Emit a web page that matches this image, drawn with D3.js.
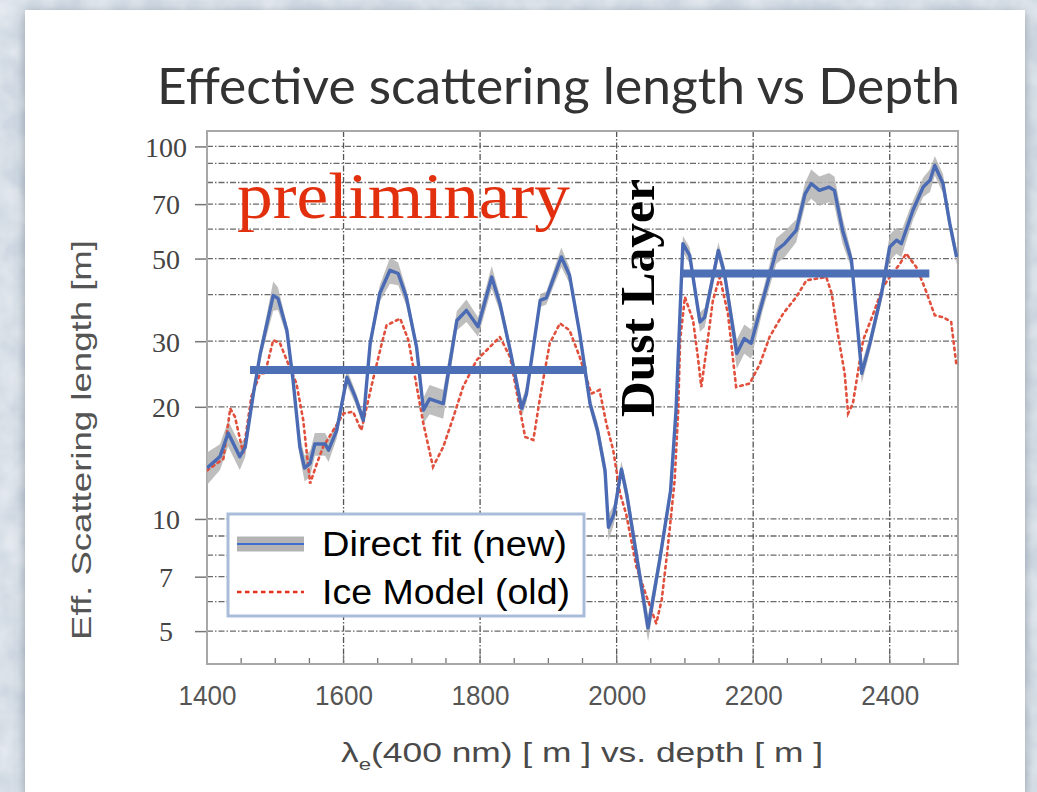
<!DOCTYPE html>
<html>
<head>
<meta charset="utf-8">
<script src="https://cdn.jsdelivr.net/npm/d3@7"></script>
<style>
  html, body { margin: 0; padding: 0; background: #d9e0e8; }
  svg { display: block; }
</style>
</head>
<body>
<svg id="chart" width="1037" height="792"></svg>
<script>
// ---------------- data ----------------
const titleText = "Effective scattering length vs Depth";
const xLabelMain = "(400 nm) [ m ] vs. depth [ m ]";
const yLabelText = "Eff. Scattering length [m]";
const seriesNames = ["Direct fit (new)", "Ice Model (old)"];

const fitDepth = [1400,1419,1431,1448,1456,1468,1478,1497,1504,1517,1526,1536,1543,1551,1558,1573,1578,1590,1605,1617,
  1629,1639,1653,1668,1680,1692,1707,1717,1726,1746,1766,1780,1797,1817,1829,1844,1861,1868,1888,1897,
  1919,1931,1946,1961,1972,1983,1988,1996,2007,2015,2046,2063,2079,2087,2097,2107,2122,2129,2149,2158,
  2176,2187,2197,2214,2234,2246,2263,2276,2285,2297,2311,2319,2331,2344,2359,2371,2388,2400,2410,2417,
  2434,2449,2459,2466,2478,2488,2498];
const fitValue = [13.7,14.7,17.0,14.7,15.6,21.7,27.8,39.8,39.1,32.1,23.6,15.6,13.7,14.1,15.9,15.9,15.3,17.3,24.0,21.3,
  18.4,29.6,40.3,46.5,45.6,39.4,28.9,19.6,21.0,20.4,34.1,36.3,32.8,44.6,37.9,28.4,19.8,21.7,38.6,39.2,
  50.5,45.1,31.4,20.4,17.3,13.5,9.5,10.3,13.6,11.6,5.1,7.75,11.9,19.6,54.8,51.0,33.8,34.8,52.6,45.6,
  27.8,30.5,29.6,38.6,52.6,54.8,59.5,74.6,79.5,76.2,77.8,76.2,59.5,49.4,24.6,29.6,40.3,53.7,56.0,54.8,
  67.4,77.8,81.1,88.9,79.5,62.0,50.5];
const fitErrPct = [10,8,8,8,6, 4,4,9,7,4, 4,6,8,8,7, 7,7,5,5,4, 4,4,5,8,7, 5,4,8,9,9, 6,7,6,7,5, 4,5,5,4,4,
  6,5,4,4,5, 6,8,6,5,6, 8,6,5,5,5, 5,6,6,5,5, 9,9,9,6,8, 8,7,7,9,9, 9,9,8,5,6, 5,5,8,8,8, 6,6,7,6,6, 5,5];

const modelDepth = [1400,1424,1434,1441,1453,1465,1478,1485,1497,1507,1519,1531,1541,1551,1561,1570,1585,1600,1614,1626,
  1643,1656,1663,1683,1695,1717,1731,1746,1761,1775,1795,1814,1829,1844,1853,1866,1878,1888,1902,1917,
  1931,1946,1963,1975,1985,1995,2005,2014,2029,2044,2058,2066,2075,2085,2090,2093,2100,2112,2119,2124,
  2132,2141,2151,2163,2175,2195,2210,2224,2244,2263,2278,2307,2315,2324,2334,2339,2346,2361,2376,2390,
  2400,2415,2424,2439,2451,2466,2478,2490,2498];
const modelValue = [13.5,14.5,19.8,18.8,15.0,21.3,24.6,24.6,30.2,29.6,26.1,23.1,18.4,12.45,14.1,15.6,17.3,19.2,19.4,17.3,
  23.6,29.6,33.1,34.5,30.2,18.0,13.8,15.6,18.8,22.6,26.7,28.9,30.8,27.2,22.2,16.6,16.3,21.3,29.6,33.5,
  32.1,27.2,21.7,22.2,18.0,15.3,11.7,10.3,7.44,6.18,5.24,6.06,8.41,12.7,19.2,30.2,39.4,34.1,27.2,22.6,
  28.9,38.6,44.6,35.6,22.6,23.1,26.1,30.8,35.6,39.4,43.7,44.6,40.3,31.4,24.6,19.2,20.4,30.2,35.6,41.9,
  44.6,48.4,51.6,47.4,41.9,35.2,34.8,33.8,25.6];

const avgStart = [1463, 2095];
const avgEnd = [1956, 2458];
const avgValue = [25.1, 45.6];

const xTickValues = [1400, 1600, 1800, 2000, 2200, 2400];
const xMinorTicks = [1450,1500,1550,1650,1700,1750,1850,1900,1950,2050,2100,2150,2250,2300,2350,2450];
const yTickValues = [5, 7, 10, 20, 30, 50, 70, 100];
const yGridValues = [5, 6, 7, 8, 9, 10, 20, 30, 40, 50, 60, 70, 80, 90, 100];

// ---------------- drawing ----------------
const svg = d3.select("#chart");
const defs = svg.append("defs");

// textured slide background
const tex = defs.append("filter").attr("id", "tex").attr("x", 0).attr("y", 0).attr("width", 1).attr("height", 1);
tex.append("feTurbulence").attr("type", "fractalNoise").attr("baseFrequency", "0.035").attr("numOctaves", 3).attr("seed", 4);
tex.append("feColorMatrix").attr("type", "matrix")
  .attr("values", "0 0 0 0 1  0 0 0 0 1  0 0 0 0 1  0.9 0 0 0 -0.25");
const shadow = defs.append("filter").attr("id", "shadow").attr("x", -0.1).attr("y", -0.1).attr("width", 1.2).attr("height", 1.2);
shadow.append("feDropShadow").attr("dx", 0).attr("dy", 3).attr("stdDeviation", 6).attr("flood-color", "#3a4a5c").attr("flood-opacity", 0.45);

svg.append("rect").attr("width", 1037).attr("height", 792).attr("fill", "#cfd8e2");
svg.append("rect").attr("width", 1037).attr("height", 792).attr("filter", "url(#tex)");
svg.append("rect").attr("x", 25).attr("y", 10).attr("width", 1000).attr("height", 820)
  .attr("fill", "#ffffff").attr("filter", "url(#shadow)");

// title
svg.append("text").attr("x", 157).attr("y", 104)
  .attr("font-family", "Lato, 'Open Sans', sans-serif").attr("font-size", 51)
  .attr("fill", "#333").attr("textLength", 803).attr("lengthAdjust", "spacingAndGlyphs")
  .text(titleText);

const L = 207, R = 958, T = 131, B = 664;
const x = d3.scaleLinear().domain([1400, 2500]).range([L, R]);
const y = d3.scaleLog().domain([4.08, 110]).range([B, T]);

const plot = svg.append("g");
plot.append("rect").attr("x", L).attr("y", T).attr("width", R - L).attr("height", B - T).attr("fill", "#fff");

// grid
plot.append("g").selectAll("line").data(yGridValues).join("line")
  .attr("x1", L).attr("x2", R).attr("y1", d => y(d)).attr("y2", d => y(d))
  .attr("stroke", "#6a6a6a").attr("stroke-width", 1.3).attr("stroke-dasharray", "6 2 1.5 2");
plot.append("g").selectAll("line").data(xTickValues.slice(1)).join("line")
  .attr("x1", d => x(d)).attr("x2", d => x(d)).attr("y1", T).attr("y2", B)
  .attr("stroke", "#555").attr("stroke-width", 1.3).attr("stroke-dasharray", "6 2 1.5 2");

// axes
const xAxis = d3.axisBottom(x).tickValues(xTickValues).tickSize(0).tickPadding(22).tickFormat(d3.format("d"));
const gx = svg.append("g").attr("transform", `translate(0,${B})`).call(xAxis);
gx.select(".domain").remove();
gx.selectAll("text").attr("font-family", "'Liberation Sans', Arial, sans-serif").attr("font-size", 27)
  .attr("fill", "#555").attr("textLength", 58).attr("lengthAdjust", "spacingAndGlyphs");

svg.append("g").selectAll("line").data(xMinorTicks.concat(xTickValues)).join("line")
  .attr("x1", d => x(d)).attr("x2", d => x(d)).attr("y1", B).attr("y2", d => xTickValues.includes(d) ? B - 9 : B - 6)
  .attr("stroke", "#777").attr("stroke-width", 1.3);

const yAxis = d3.axisLeft(y).tickValues(yTickValues).tickSize(12).tickPadding(0).tickFormat(d3.format("d"));
const gy = svg.append("g").attr("transform", `translate(${L},0)`).call(yAxis);
gy.select(".domain").remove();
gy.selectAll("line").attr("stroke", "#777").attr("stroke-width", 1.5);
gy.selectAll("text").attr("x", -41).attr("text-anchor", "middle").attr("dy", "0.35em")
  .attr("font-family", "'Liberation Serif', 'Times New Roman', serif").attr("font-size", 28).attr("fill", "#444");

// frame
svg.append("rect").attr("x", L).attr("y", T).attr("width", R - L).attr("height", B - T)
  .attr("fill", "none").attr("stroke", "#a8a8a8").attr("stroke-width", 2);

// axis labels
const xl = svg.append("text").attr("x", 341).attr("y", 762)
  .attr("font-family", "'Liberation Sans', Arial, sans-serif").attr("font-size", 27).attr("fill", "#4a4a4a")
  .attr("textLength", 482).attr("lengthAdjust", "spacingAndGlyphs");
xl.append("tspan").text("λ");
xl.append("tspan").attr("font-size", 17).attr("dy", 8).text("e");
xl.append("tspan").attr("dy", -8).text(xLabelMain);

svg.append("text").attr("transform", "translate(91,440) rotate(-90)").attr("text-anchor", "middle")
  .attr("font-family", "'Liberation Sans', Arial, sans-serif").attr("font-size", 28).attr("fill", "#555")
  .attr("textLength", 400).attr("lengthAdjust", "spacingAndGlyphs")
  .text(yLabelText);

// data marks
const clip = defs.append("clipPath").attr("id", "clip");
clip.append("rect").attr("x", L).attr("y", T).attr("width", R - L).attr("height", B - T);
const marks = svg.append("g").attr("clip-path", "url(#clip)");

const fit = fitDepth.map((d, i) => ({ d, v: fitValue[i], e: fitErrPct[i] / 100 }));
const model = modelDepth.map((d, i) => ({ d, v: modelValue[i] }));

marks.append("path").datum(fit)
  .attr("d", d3.area().x(p => x(p.d)).y0(p => y(p.v * (1 - p.e))).y1(p => y(p.v * (1 + p.e))))
  .attr("fill", "#b3b3b3").attr("opacity", 0.85);

marks.append("path").datum(model)
  .attr("d", d3.line().x(p => x(p.d)).y(p => y(p.v)))
  .attr("fill", "none").attr("stroke", "#e0503c").attr("stroke-width", 2.6)
  .attr("stroke-dasharray", "2.5 4").attr("stroke-linecap", "round");

marks.append("path").datum(fit)
  .attr("d", d3.line().x(p => x(p.d)).y(p => y(p.v)))
  .attr("fill", "none").attr("stroke", "#4a6bb4").attr("stroke-width", 3.4).attr("stroke-linejoin", "round");

marks.append("g").selectAll("line").data(avgValue).join("line")
  .attr("x1", (d, i) => x(avgStart[i])).attr("x2", (d, i) => x(avgEnd[i]))
  .attr("y1", d => y(d)).attr("y2", d => y(d))
  .attr("stroke", "#4c6fb6").attr("stroke-width", 8);

// annotations
svg.append("text").attr("x", 237).attr("y", 218)
  .attr("font-family", "'Liberation Serif', 'Times New Roman', serif").attr("font-size", 66)
  .attr("fill", "#e2300f").attr("textLength", 333).attr("lengthAdjust", "spacingAndGlyphs")
  .text("preliminary");

svg.append("text").attr("transform", "translate(654,417) rotate(-90)")
  .attr("font-family", "'Liberation Serif', 'Times New Roman', serif").attr("font-size", 48).attr("font-weight", "bold")
  .attr("fill", "#000").attr("textLength", 238).attr("lengthAdjust", "spacingAndGlyphs")
  .text("Dust Layer");

// legend
const lg = svg.append("g");
lg.append("rect").attr("x", 228).attr("y", 514).attr("width", 356).attr("height", 102)
  .attr("fill", "#fff").attr("stroke", "#a9bddb").attr("stroke-width", 3);
lg.append("line").attr("x1", 237).attr("x2", 304).attr("y1", 544).attr("y2", 544)
  .attr("stroke", "#b3b3b3").attr("stroke-width", 15);
lg.append("line").attr("x1", 237).attr("x2", 304).attr("y1", 544).attr("y2", 544)
  .attr("stroke", "#3f6fd0").attr("stroke-width", 2.2);
lg.append("line").attr("x1", 237).attr("x2", 304).attr("y1", 592).attr("y2", 592)
  .attr("stroke", "#e8301c").attr("stroke-width", 2.4).attr("stroke-dasharray", "4.5 3.5");
lg.selectAll("text.lt").data(seriesNames).join("text").attr("class", "lt")
  .attr("x", 322).attr("y", (d, i) => 556 + i * 48)
  .attr("font-family", "'Liberation Sans', Arial, sans-serif").attr("font-size", 35).attr("fill", "#000")
  .attr("textLength", (d, i) => i === 0 ? 245 : 248).attr("lengthAdjust", "spacingAndGlyphs")
  .text(d => d);
</script>
</body>
</html>
